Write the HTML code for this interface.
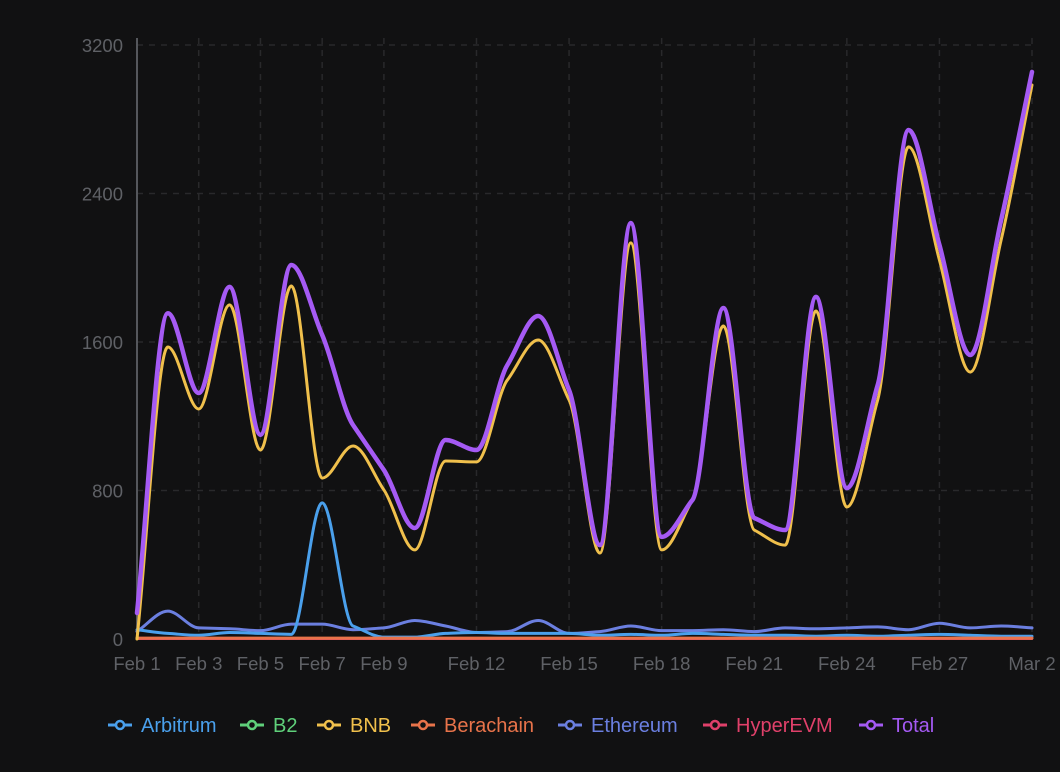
<!DOCTYPE html>
<html><head><meta charset="utf-8"><style>
html,body{margin:0;padding:0;background:#111112;}
svg{display:block;font-family:"Liberation Sans",sans-serif;}
</style></head><body>
<svg id="c" width="1060" height="772" xmlns="http://www.w3.org/2000/svg">
<rect width="1060" height="772" fill="#111112"/>
<g id="grid" stroke="#29292b" stroke-width="1.5" stroke-dasharray="6,6" fill="none"></g>
<line x1="137" y1="38" x2="137" y2="639" stroke="#55575c" stroke-width="2"/>
<g id="ylab" fill="#5f6166" font-size="18.5" text-anchor="end"></g>
<g id="xlab" fill="#5f6166" font-size="18.5" text-anchor="middle"></g>
<g id="series" fill="none" stroke-linejoin="round" stroke-linecap="round"></g>
<g id="legend" font-size="20"></g>
</svg>
<script>
var NS="http://www.w3.org/2000/svg";
function el(t,a,p,txt){var e=document.createElementNS(NS,t);for(var k in a)e.setAttribute(k,a[k]);if(txt!=null)e.textContent=txt;p.appendChild(e);return e;}
function X(d){return 137+d*895/29;}
function Y(v){return 639-v*594/3200;}
var g=document.getElementById('grid');
[800,1600,2400,3200].forEach(function(v){el('line',{x1:137,x2:1032,y1:Y(v),y2:Y(v)},g);});
var ticks=[[0,'Feb 1'],[2,'Feb 3'],[4,'Feb 5'],[6,'Feb 7'],[8,'Feb 9'],[11,'Feb 12'],[14,'Feb 15'],[17,'Feb 18'],[20,'Feb 21'],[23,'Feb 24'],[26,'Feb 27'],[29,'Mar 2']];
ticks.forEach(function(t){if(t[0]>0)el('line',{x1:X(t[0]),x2:X(t[0]),y1:38,y2:639},g);el('text',{x:X(t[0]),y:670},document.getElementById('xlab'),t[1]);});
[0,800,1600,2400,3200].forEach(function(v){el('text',{x:123,y:Y(v)+7},document.getElementById('ylab'),v);});
function path(d){var n=d.length,px=d.map(function(v,i){return X(i);}),py=d.map(Y);
var h=px[1]-px[0],s=[],m=[];for(var i=0;i<n-1;i++)s.push((py[i+1]-py[i])/h);
for(i=0;i<n;i++){if(i==0)m.push(s[0]);else if(i==n-1)m.push(s[n-2]);else{if(s[i-1]*s[i]<=0)m.push(0);else{var a=s[i-1],b=s[i];m.push(Math.sign(a)*Math.min(Math.abs(a),Math.abs(b),0.5*Math.abs((a+b)/2)*2>0?Math.min(Math.abs((a+b)/2)*1,3*Math.min(Math.abs(a),Math.abs(b))):0));}}}
var p='M'+px[0]+','+py[0];
for(i=0;i<n-1;i++){var dx=h/3;p+=' C'+(px[i]+dx)+','+(py[i]+m[i]*dx)+' '+(px[i+1]-dx)+','+(py[i+1]-m[i+1]*dx)+' '+px[i+1]+','+py[i+1];}
return p;}
var total=[140,1755,1325,1897,1100,2015,1638,1153,910,598,1072,1018,1476,1740,1341,506,2241,550,749,1783,652,587,1843,813,1368,2742,2123,1530,2257,3055];
var bnb=[0,1573,1239,1800,1018,1902,867,1040,803,480,959,954,1395,1611,1288,463,2134,480,749,1686,587,506,1767,711,1288,2651,2042,1438,2150,2985];
var arb=[50,30,20,35,30,25,733,70,10,10,30,35,30,30,30,20,25,20,30,25,20,20,15,20,15,20,25,20,15,15];
var eth=[40,150,60,55,45,80,80,50,60,100,70,35,40,100,30,40,70,45,45,50,40,60,55,60,65,50,85,60,70,60];
var z=function(v){return total.map(function(){return v;});};
var S=document.getElementById('series');
[[z(0),'#5fd07a',2],[z(0),'#e0406a',2],[eth,'#6b7fe0',3],[arb,'#4aa0ec',3],[z(5),'#e8734a',3],[bnb,'#f0c04c',3],[total,'#a55af4',4.5]].forEach(function(s){el('path',{d:path(s[0]),stroke:s[1],'stroke-width':s[2]},S);});
var L=document.getElementById('legend');
var items=[['Arbitrum','#4aa0ec',108],['B2','#5fd07a',240],['BNB','#f0c04c',317],['Berachain','#e8734a',411],['Ethereum','#6b7fe0',558],['HyperEVM','#e0406a',703],['Total','#a55af4',859]];
items.forEach(function(it){var x=it[2];el('line',{x1:x,x2:x+24,y1:725,y2:725,stroke:it[1],'stroke-width':3},L);el('circle',{cx:x+12,cy:725,r:4,fill:'#111112',stroke:it[1],'stroke-width':2.5},L);el('text',{x:x+33,y:732,fill:it[1]},L,it[0]);});
</script>
</body></html>
